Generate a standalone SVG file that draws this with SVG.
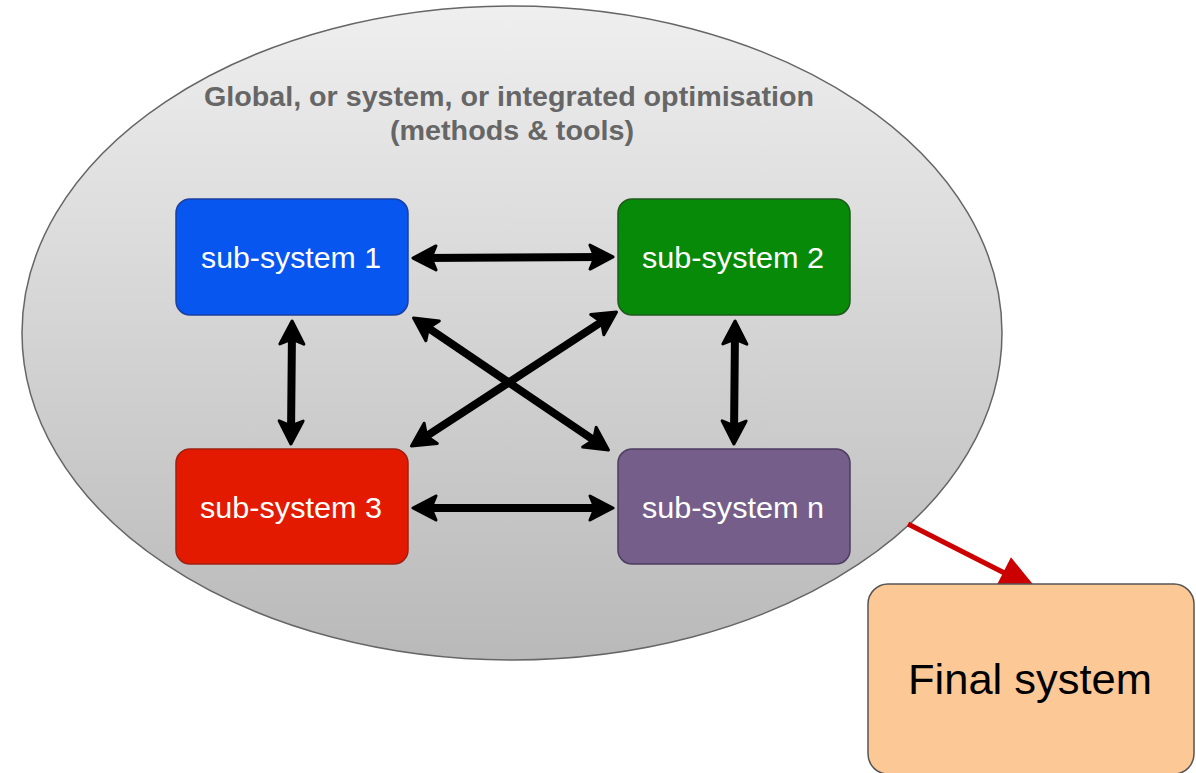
<svg xmlns="http://www.w3.org/2000/svg" width="1196" height="773" viewBox="0 0 1196 773">
<style>
.box{stroke-width:1.5}
.lbl{font-family:"Liberation Sans",Arial,sans-serif;font-size:29px;fill:#ffffff;text-anchor:middle}
.title{font-family:"Liberation Sans",Arial,sans-serif;font-size:27px;font-weight:bold;fill:#666666;text-anchor:middle}
.conn{stroke:#000;stroke-width:8;fill:none;stroke-linecap:round;marker-start:url(#ah);marker-end:url(#ah)}
</style>
<defs>
<linearGradient id="eg" x1="0" y1="0" x2="0" y2="1">
<stop offset="0" stop-color="#efefef"/>
<stop offset="1" stop-color="#b9b9b9"/>
</linearGradient>
<marker id="ah" markerUnits="userSpaceOnUse" orient="auto-start-reverse" refX="0" refY="0" markerWidth="40" markerHeight="40" viewBox="-20 -20 40 40" overflow="visible">
<path d="M9,0 L-14,-12 L-9,0 L-14,12 Z" fill="#000" stroke="#000" stroke-width="3" stroke-linejoin="round"/>
</marker>
<marker id="rh" markerUnits="userSpaceOnUse" orient="auto" refX="0" refY="0" markerWidth="60" markerHeight="60" viewBox="-50 -30 60 60" overflow="visible">
<path d="M8,0 L-30,-17 L-30,17 Z" fill="#cc0000"/>
</marker>
</defs>
<g id="scope">
<ellipse cx="512" cy="333" rx="490" ry="327" fill="url(#eg)" stroke="#666" stroke-width="1.5"/>
<text class="title" x="509" y="106" textLength="610" lengthAdjust="spacingAndGlyphs">Global, or system, or integrated optimisation</text>
<text class="title" x="512" y="140" textLength="244" lengthAdjust="spacingAndGlyphs">(methods &amp; tools)</text>
</g>
<g id="connectors">
<line class="conn" x1="422" y1="258" x2="604" y2="257"/>
<line class="conn" x1="422" y1="508" x2="604" y2="508"/>
<line class="conn" x1="292" y1="330" x2="291" y2="435"/>
<line class="conn" x1="735" y1="330" x2="734" y2="435"/>
<line class="conn" x1="421" y1="323" x2="601" y2="445"/>
<line class="conn" x1="609" y1="317" x2="419" y2="441"/>
<line x1="908" y1="524" x2="1030" y2="586" stroke="#cc0000" stroke-width="5" marker-end="url(#rh)"/>
</g>
<g id="sub1">
<rect class="box" x="176" y="199" width="232" height="116" rx="14" fill="#0656ef" stroke="#1a3fa0"/>
<text class="lbl" x="291" y="268" textLength="180" lengthAdjust="spacingAndGlyphs">sub-system 1</text>
</g>
<g id="sub2">
<rect class="box" x="618" y="199" width="232" height="116" rx="14" fill="#078a07" stroke="#1e5a1e"/>
<text class="lbl" x="733" y="268" textLength="182" lengthAdjust="spacingAndGlyphs">sub-system 2</text>
</g>
<g id="sub3">
<rect class="box" x="176" y="449" width="232" height="115" rx="14" fill="#e41a00" stroke="#a02010"/>
<text class="lbl" x="291" y="518" textLength="182" lengthAdjust="spacingAndGlyphs">sub-system 3</text>
</g>
<g id="subn">
<rect class="box" x="618" y="449" width="232" height="115" rx="14" fill="#755f8a" stroke="#4d3d60"/>
<text class="lbl" x="733" y="518" textLength="182" lengthAdjust="spacingAndGlyphs">sub-system n</text>
</g>
<g id="final">
<rect x="868" y="584" width="326" height="190" rx="20" fill="#fcc895" stroke="#555" stroke-width="1.5"/>
<text x="1030" y="694" font-family="Liberation Sans, Arial, sans-serif" font-size="42" fill="#000" text-anchor="middle" textLength="244" lengthAdjust="spacingAndGlyphs">Final system</text>
</g>
</svg>
